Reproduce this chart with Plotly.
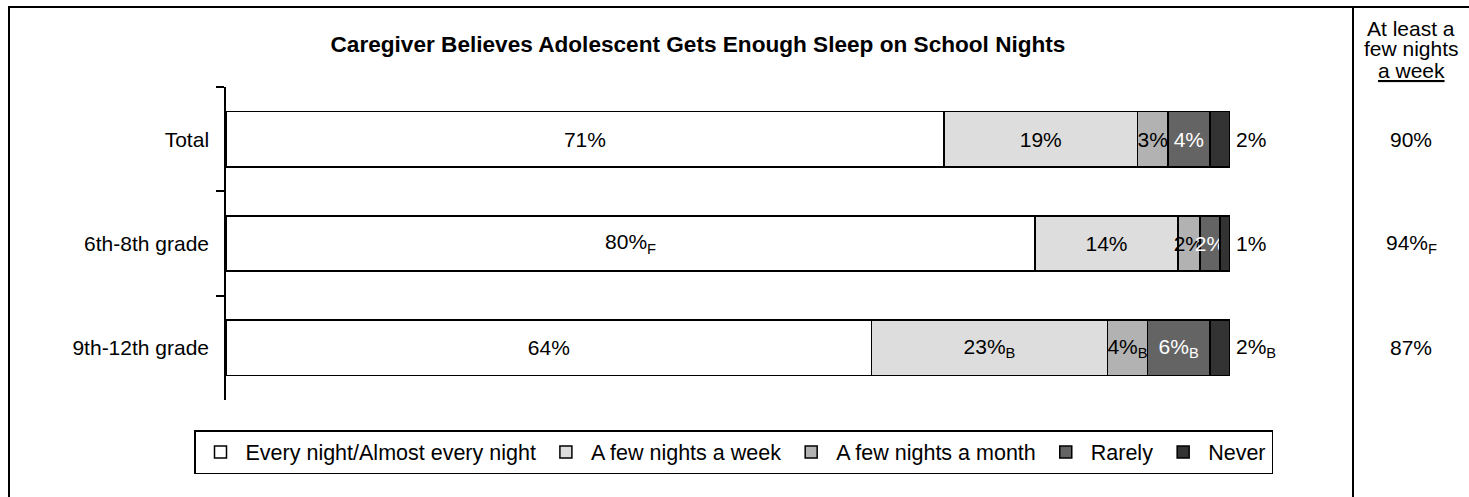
import plotly.graph_objects as go

# ---------------- data ----------------
categories = ["Total", "6th-8th grade", "9th-12th grade"]
series_names = ["Every night/Almost every night", "A few nights a week",
                "A few nights a month", "Rarely", "Never"]
every_night = [71.5, 80.6, 64.3]
few_week = [19.3, 14.2, 23.5]
few_month = [3.0, 2.2, 4.0]
rarely = [4.2, 2.0, 6.2]
never = [2.0, 1.0, 2.0]

every_night_lbl = ["71%", "80%<sub>F</sub>", "64%"]
few_week_lbl = ["19%", "14%", "23%<sub>B</sub>"]
few_month_lbl = ["3%", "2%", "4%<sub>B</sub>"]
rarely_lbl = ["4%", "2%", "6%<sub>B</sub>"]
never_lbl = ["2%", "1%", "2%<sub>B</sub>"]

at_least_week_lbl = ["90%", "94%<sub>F</sub>", "87%"]

title_text = "Caregiver Believes Adolescent Gets Enough Sleep on School Nights"
side_header_lines = ["At least a", "few nights", "<u>a week</u>"]

# ---------------- layout geometry (pixels) ----------------
W, H = 1469, 497
PL, PR, PT, PB = 226, 1230, 87, 400  # plot area


def px(x):
    return (x - PL) / (PR - PL)


def py(y):
    return (PB - y) / (PB - PT)


FONT = "Liberation Sans, Arial, sans-serif"
FS = 21
colors = ["#FFFFFF", "#DDDDDD", "#B2B2B2", "#646464", "#333333"]
text_colors = ["black", "black", "black", "white", "black"]

series_vals = [every_night, few_week, few_month, rarely, never]
series_lbls = [every_night_lbl, few_week_lbl, few_month_lbl, rarely_lbl, never_lbl]

fig = go.Figure()
for i, (name, vals, lbls) in enumerate(zip(series_names, series_vals, series_lbls)):
    is_last = i == len(series_names) - 1
    fig.add_trace(go.Bar(
        name=name,
        y=categories,
        x=vals,
        orientation="h",
        width=0.53,
        marker=dict(color=colors[i], line=dict(color="black", width=1.5)),
        text=None if is_last else lbls,
        texttemplate=None if is_last else "%{text}",
        textposition="none" if is_last else "inside",
        insidetextanchor="middle",
        textangle=0,
        constraintext="none",
        insidetextfont=dict(family=FONT, size=FS, color=text_colors[i]),
        hoverinfo="skip",
    ))

# labels for the last ("Never") segment, outside to the right of the bar ends
totals = [sum(v) for v in zip(*series_vals)]
for cat, tot, lbl in zip(categories, totals, never_lbl):
    fig.add_annotation(x=tot, y=cat, xref="x", yref="y", text=lbl,
                       showarrow=False, xanchor="left", xshift=4,
                       font=dict(family=FONT, size=FS, color="black"))

# right-hand column values
for cat, lbl in zip(categories, at_least_week_lbl):
    fig.add_annotation(x=px(1411), y=cat, xref="paper", yref="y", text=lbl,
                       showarrow=False, xanchor="center",
                       font=dict(family=FONT, size=FS, color="black"))

# right-hand column header (three tight lines)
for line, yc in zip(side_header_lines, [28, 49, 70]):
    fig.add_annotation(x=px(1411), y=py(yc), xref="paper", yref="paper",
                       text=line, showarrow=False, xanchor="center",
                       yanchor="middle",
                       font=dict(family=FONT, size=FS, color="black"))

# outer border and column divider
fig.add_shape(type="rect", xref="paper", yref="paper",
              x0=px(9), x1=px(1480), y0=py(7), y1=py(510),
              line=dict(color="black", width=2), fillcolor="rgba(0,0,0,0)",
              layer="above")
fig.add_shape(type="line", xref="paper", yref="paper",
              x0=px(1353), x1=px(1353), y0=py(7), y1=py(510),
              line=dict(color="black", width=2))

fig.update_layout(
    width=W, height=H,
    margin=dict(l=PL, r=W - PR, t=PT, b=H - PB, autoexpand=False),
    barmode="stack",
    plot_bgcolor="white", paper_bgcolor="white",
    font=dict(family=FONT, size=FS, color="black"),
    title=dict(text="<b>" + title_text + "</b>", x=698 / W, xanchor="center",
               y=1 - 44 / H, yanchor="middle",
               font=dict(family=FONT, size=22.6, color="black")),
    xaxis=dict(range=[0, 100], visible=False, fixedrange=True),
    yaxis=dict(categoryorder="array", categoryarray=categories,
               autorange="reversed", showline=True, linecolor="black",
               linewidth=1.5, ticks="outside", tickson="boundaries",
               ticklen=8, tickcolor="black", tickwidth=1.5,
               showgrid=False, zeroline=False, fixedrange=True,
               tickfont=dict(family=FONT, size=FS, color="black"),
               ticklabelstandoff=11),
    legend=dict(orientation="h", xref="paper", yref="paper",
                x=px(194), xanchor="left",
                y=py(430), yanchor="top",
                bordercolor="black", borderwidth=1.5, itemwidth=40,
                bgcolor="white", traceorder="normal",
                font=dict(family=FONT, size=21.5, color="black"),
                itemclick=False, itemdoubleclick=False),
    showlegend=True,
)

fig.write_html("out.html", config={"displayModeBar": False},
               post_script="document.body.style.margin='0';document.body.style.padding='0';")
